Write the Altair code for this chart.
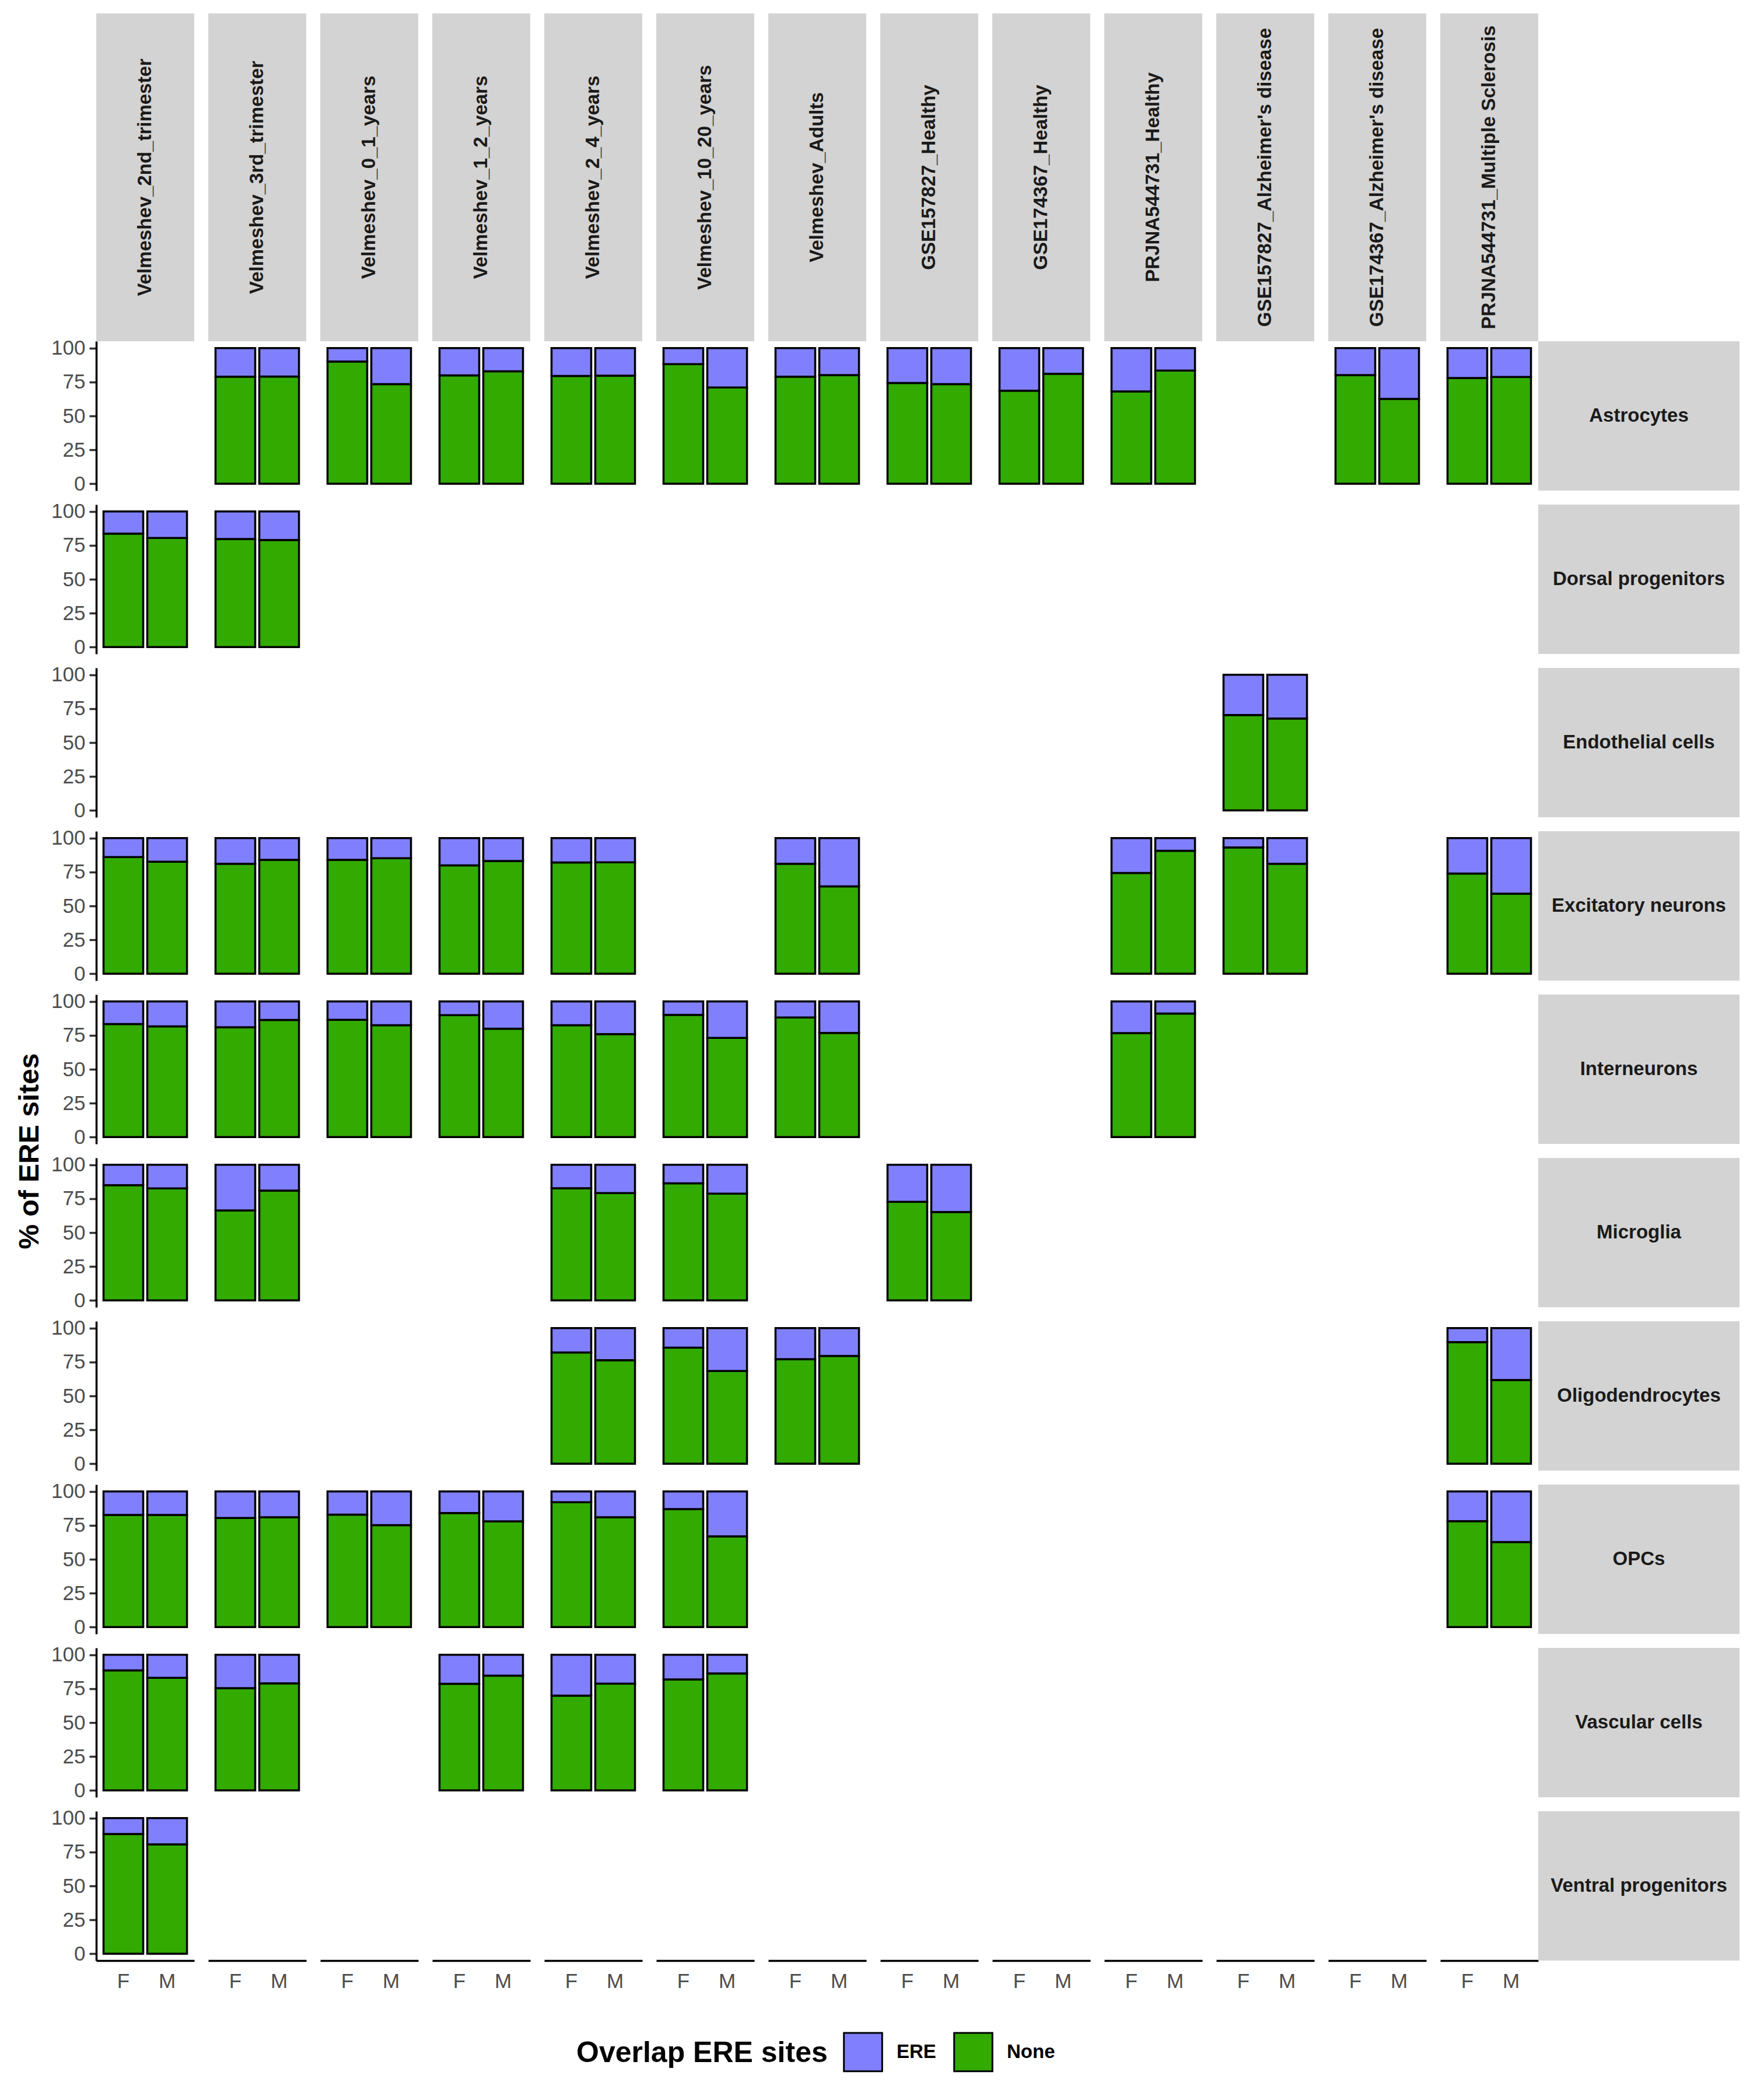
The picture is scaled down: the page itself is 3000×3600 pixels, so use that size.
import altair as alt
import pandas as pd

# ---------------- data ----------------
datasets = [
    "Velmeshev_2nd_trimester", "Velmeshev_3rd_trimester", "Velmeshev_0_1_years",
    "Velmeshev_1_2_years", "Velmeshev_2_4_years", "Velmeshev_10_20_years",
    "Velmeshev_Adults", "GSE157827_Healthy", "GSE174367_Healthy",
    "PRJNA544731_Healthy", "GSE157827_Alzheimer's disease",
    "GSE174367_Alzheimer's disease", "PRJNA544731_Multiple Sclerosis",
]
cell_types = [
    "Astrocytes", "Dorsal progenitors", "Endothelial cells", "Excitatory neurons",
    "Interneurons", "Microglia", "Oligodendrocytes", "OPCs", "Vascular cells",
    "Ventral progenitors",
]
sexes = ["F", "M"]
overlap_levels = ["ERE", "None"]
overlap_colors = ["#8080FF", "#33AA00"]

# panels that have data: cell-type index, dataset index, % "None" for F and M
panel_cell = [0]*11 + [1]*2 + [2] + [3]*9 + [4]*8 + [5]*5 + [6]*4 + [7]*7 + [8]*5 + [9]
panel_dataset = [
    1, 2, 3, 4, 5, 6, 7, 8, 9, 11, 12,
    0, 1,
    10,
    0, 1, 2, 3, 4, 6, 9, 10, 12,
    0, 1, 2, 3, 4, 5, 6, 9,
    0, 1, 4, 5, 7,
    4, 5, 6, 12,
    0, 1, 2, 3, 4, 5, 12,
    0, 1, 3, 4, 5,
    0,
]
none_pct_F = [
    78.9, 90.1, 79.9, 79.4, 88.1, 78.9, 74.3, 68.6, 68.0, 80.1, 77.9,
    83.6, 79.7,
    70.3,
    86.0, 81.0, 83.9, 79.9, 82.0, 81.0, 74.3, 93.1, 73.9,
    83.3, 80.9, 86.4, 89.9, 82.4, 90.1, 88.1, 76.6,
    84.9, 66.3, 82.7, 86.3, 72.7,
    82.0, 85.6, 77.1, 89.6,
    82.7, 80.4, 82.9, 84.0, 92.0, 86.9, 78.0,
    88.5, 75.4, 78.6, 69.9, 81.8,
    88.2,
]
none_pct_M = [
    79.0, 73.4, 82.9, 79.6, 71.0, 80.1, 73.4, 81.0, 83.4, 62.6, 78.7,
    80.4, 78.9,
    67.7,
    82.6, 83.9, 85.1, 83.1, 82.1, 64.4, 90.6, 81.0, 59.0,
    81.6, 86.3, 82.4, 79.9, 75.9, 73.1, 76.7, 91.0,
    82.6, 80.9, 79.1, 78.7, 65.1,
    76.3, 68.4, 79.4, 61.7,
    82.7, 80.9, 75.1, 77.9, 80.9, 66.9, 62.7,
    83.0, 78.9, 84.6, 78.7, 86.2,
    80.6,
]

records = []
for ri, ci, f, m in zip(panel_cell, panel_dataset, none_pct_F, none_pct_M):
    for sex, v in (("F", f), ("M", m)):
        records.append({"ri": ri, "ci": ci, "sex": sex, "overlap": "None", "pct": v})
        records.append({"ri": ri, "ci": ci, "sex": sex, "overlap": "ERE", "pct": round(100 - v, 1)})
df = pd.DataFrame(records)
col_labels = pd.DataFrame({"ci": list(range(len(datasets))), "label": datasets})
row_labels = pd.DataFrame({"ri": list(range(len(cell_types))), "label": cell_types})

# ---------------- layout constants ----------------
PW, PH = 168, 256
GAP = 24
STRIP_H = 562          # full height of the top strips (touching the panels)
ROW_STRIP_W = 345      # full width of the right strips (touching the panels)
STRIP_FILL = "#D3D3D3"
FONT = "Liberation Sans"
AX_GREY = "#4D4D4D"

color = alt.Color(
    "overlap:N",
    scale=alt.Scale(domain=overlap_levels, range=overlap_colors),
    legend=alt.Legend(
        title="Overlap ERE sites", orient="none", legendX=823, legendY=3460,
        direction="horizontal", titleOrient="left", titleFontSize=50,
        titleFontWeight="bold", titleColor="black", titleLimit=1000,
        titlePadding=26, titleAnchor="middle", titleBaseline="middle",
        labelFontSize=33, labelFontWeight="bold", labelColor="black",
        labelOffset=23, columnPadding=24, symbolType="square", symbolSize=4300,
        symbolStrokeColor="black", symbolStrokeWidth=3, symbolOpacity=1,
        padding=0,
    ),
)


def panel(ri, ci):
    yaxis = None
    if ci == 0:
        kw = dict(
            values=[0, 25, 50, 75, 100], labelFontSize=35, labelColor=AX_GREY,
            tickColor="#333333", tickWidth=3.5, tickSize=12, labelPadding=7,
            domainColor="black", domainWidth=3.5, grid=False, title=None,
        )
        if ri == 4:
            kw.update(
                title="% of ERE sites", titleFontSize=48, titleFontWeight="bold",
                titleColor="black", titleY=PH + GAP / 2, titlePadding=12,
                titleLimit=1000,
            )
        yaxis = alt.Axis(**kw)
    xaxis = None
    if ri == len(cell_types) - 1:
        xaxis = alt.Axis(
            labelAngle=0, labelFontSize=35, labelColor=AX_GREY, ticks=False,
            tickSize=0, labelPadding=18, domainColor="black", domainWidth=3.5,
            title=None, grid=False,
        )
    return (
        alt.Chart(df)
        .transform_filter((alt.datum.ri == ri) & (alt.datum.ci == ci))
        .mark_bar(stroke="black", strokeWidth=3.5)
        .encode(
            x=alt.X("sex:N", scale=alt.Scale(domain=sexes, paddingInner=0.093,
                                             paddingOuter=0.166), axis=xaxis, title=None),
            y=alt.Y("pct:Q", stack="zero",
                    scale=alt.Scale(domain=[-5, 105], nice=False, zero=False),
                    axis=yaxis, title=None),
            color=color,
            order=alt.Order("overlap:N", sort="descending"),
        )
        .properties(width=PW, height=PH)
    )


def col_strip(ci):
    # cell is STRIP_H - GAP tall; the grey strip runs on through the gap to the panel
    base = alt.Chart(col_labels).transform_filter(alt.datum.ci == ci)
    rect = base.mark_rect(color=STRIP_FILL).encode(
        x=alt.value(0), x2=alt.value(PW), y=alt.value(0), y2=alt.value(STRIP_H))
    txt = base.mark_text(angle=270, fontSize=33, fontWeight="bold", color="#1A1A1A",
                         align="center", baseline="middle").encode(
        text="label:N", x=alt.value(PW / 2), y=alt.value(STRIP_H / 2))
    return alt.layer(rect, txt).properties(width=PW, height=STRIP_H - GAP)


def row_strip(ri):
    # cell is ROW_STRIP_W - GAP wide; the grey strip reaches back through the gap
    base = alt.Chart(row_labels).transform_filter(alt.datum.ri == ri)
    rect = base.mark_rect(color=STRIP_FILL).encode(
        x=alt.value(-GAP), x2=alt.value(ROW_STRIP_W - GAP), y=alt.value(0), y2=alt.value(PH))
    txt = base.mark_text(fontSize=33, fontWeight="bold", color="#1A1A1A",
                         align="center", baseline="middle").encode(
        text="label:N", x=alt.value(ROW_STRIP_W / 2 - GAP), y=alt.value(PH / 2))
    return alt.layer(rect, txt).properties(width=ROW_STRIP_W - GAP, height=PH)


blank = (
    alt.Chart(row_labels).transform_filter(alt.datum.ri < 0)
    .mark_rect(opacity=0).encode(x=alt.value(0), y=alt.value(0))
    .properties(width=ROW_STRIP_W - GAP, height=STRIP_H - GAP)
)

cells = [col_strip(ci) for ci in range(len(datasets))] + [blank]
for ri in range(len(cell_types)):
    cells += [panel(ri, ci) for ci in range(len(datasets))]
    cells.append(row_strip(ri))

chart = (
    alt.concat(*cells, columns=len(datasets) + 1, spacing=GAP,
               bounds="flush", align="each")
    .properties(padding={"left": 19, "top": 15, "right": 5, "bottom": 5})
    .configure(font=FONT)
    .configure_view(stroke=None)
)

chart.save("out.html", embed_options={"renderer": "svg", "actions": False})
